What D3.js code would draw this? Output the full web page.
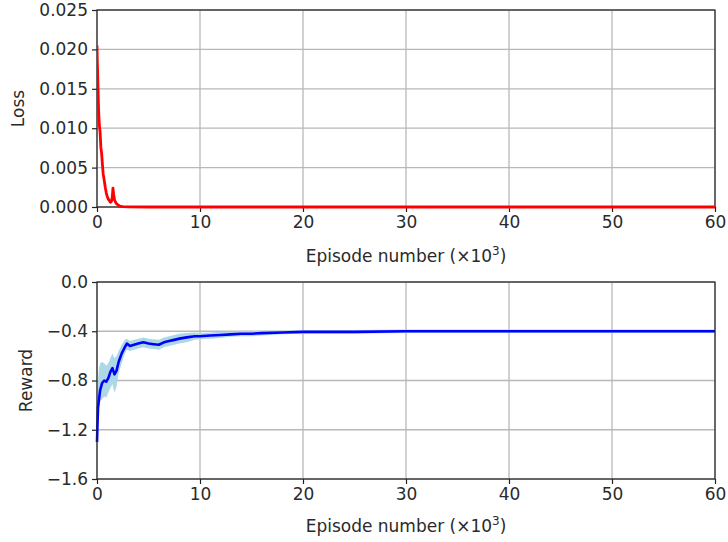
<!DOCTYPE html>
<html><head><meta charset="utf-8">
<script src="https://cdn.jsdelivr.net/npm/d3@7"></script>
<style>
body{margin:0;background:#fff;}
svg{display:block;font-family:"DejaVu Sans",sans-serif;}
</style></head>
<body>
<svg id="c" width="728" height="542"></svg>
<script>
const xTicks = [0,10,20,30,40,50,60];
const lossTicks = [0,0.005,0.010,0.015,0.020,0.025];
const rewardTicks = [-1.6,-1.2,-0.8,-0.4,0.0];
const xLabel = "Episode number (×10";

const lossX = [0,0.03,0.08,0.15,0.22,0.3,0.38,0.45,0.52,0.6,0.7,0.8,0.9,1.0,1.1,1.2,1.3,1.4,1.48,1.55,1.62,1.7,1.8,1.9,2.0,2.2,2.5,3,5,10,20,30,40,50,60];
const lossY = [0.0205,0.0185,0.016,0.0125,0.0105,0.0095,0.0075,0.0068,0.0055,0.0042,0.0034,0.0025,0.0018,0.0013,0.0010,0.0008,0.0006,0.0007,0.0012,0.0024,0.0016,0.0009,0.0006,0.0004,0.0003,0.0001,0.00005,0.00002,0,0,0,0,0,0,0];

const rewardX = [0,0.05,0.1,0.2,0.3,0.5,0.7,0.9,1.1,1.3,1.5,1.7,1.9,2.1,2.4,2.7,2.9,3.2,3.6,4.0,4.5,5.0,5.5,6.0,6.5,7.0,7.5,8.0,8.7,9.5,10,11,12,13,14,15,16,18,20,25,30,35,40,45,50,55,60];
const rewardMean = [-1.30,-1.15,-1.02,-0.95,-0.88,-0.82,-0.80,-0.81,-0.78,-0.73,-0.70,-0.75,-0.72,-0.65,-0.58,-0.53,-0.50,-0.52,-0.51,-0.50,-0.49,-0.50,-0.505,-0.51,-0.49,-0.48,-0.47,-0.46,-0.45,-0.44,-0.44,-0.435,-0.43,-0.425,-0.42,-0.42,-0.415,-0.41,-0.405,-0.405,-0.40,-0.40,-0.40,-0.40,-0.40,-0.40,-0.40];
const rewardLow = [-1.40,-1.28,-1.12,-1.02,-0.97,-0.95,-0.93,-0.94,-0.90,-0.86,-0.83,-0.90,-0.85,-0.74,-0.66,-0.58,-0.55,-0.56,-0.55,-0.54,-0.53,-0.54,-0.545,-0.55,-0.53,-0.52,-0.51,-0.50,-0.49,-0.47,-0.465,-0.46,-0.455,-0.445,-0.44,-0.44,-0.435,-0.425,-0.42,-0.42,-0.415,-0.415,-0.415,-0.415,-0.415,-0.415,-0.415];
const rewardHigh = [-1.18,-0.98,-0.80,-0.70,-0.66,-0.65,-0.66,-0.68,-0.66,-0.62,-0.58,-0.62,-0.60,-0.56,-0.51,-0.47,-0.46,-0.48,-0.47,-0.46,-0.45,-0.46,-0.465,-0.47,-0.45,-0.44,-0.43,-0.42,-0.415,-0.41,-0.415,-0.41,-0.405,-0.405,-0.40,-0.40,-0.395,-0.395,-0.39,-0.39,-0.385,-0.385,-0.385,-0.385,-0.385,-0.385,-0.385];

const svg = d3.select("#c");
const L = 97, R = 715;
const FS = 17;
const TXT = "#2a2a2a";
const x = d3.scaleLinear().domain([0,60]).range([L,R]);

function panel(top, bottom, yDomain, yTicks, yFmt, yLabel, yLabelX, xLabelY){
  const y = d3.scaleLinear().domain(yDomain).range([bottom, top]);
  const g = svg.append("g");
  g.append("g").selectAll("line").data(xTicks).join("line")
    .attr("x1", d=>x(d)).attr("x2", d=>x(d)).attr("y1", top).attr("y2", bottom)
    .attr("stroke","#b8b8b8").attr("stroke-width",1.3);
  g.append("g").selectAll("line").data(yTicks).join("line")
    .attr("y1", d=>y(d)).attr("y2", d=>y(d)).attr("x1", L).attr("x2", R)
    .attr("stroke","#b8b8b8").attr("stroke-width",1.3);
  const xa = g.append("g").attr("transform",`translate(0,${bottom})`)
    .call(d3.axisBottom(x).tickValues(xTicks).tickFormat(d3.format("d")).tickSize(5).tickPadding(4));
  const ya = g.append("g").attr("transform",`translate(${L},0)`)
    .call(d3.axisLeft(y).tickValues(yTicks).tickFormat(yFmt).tickSize(5).tickPadding(4));
  [xa,ya].forEach(a=>{
    a.select(".domain").remove();
    a.selectAll("text").attr("font-size",FS).attr("fill",TXT).attr("font-family","DejaVu Sans");
    a.selectAll("line").attr("stroke","#222").attr("stroke-width",1.2);
  });
  const xl = g.append("text").attr("x",(L+R)/2).attr("y",xLabelY).attr("text-anchor","middle")
    .attr("font-size",FS).attr("fill",TXT);
  xl.append("tspan").text(xLabel);
  xl.append("tspan").attr("dy",-7).attr("font-size",12).text("3");
  xl.append("tspan").attr("dy",7).text(")");
  g.append("text").attr("transform",`translate(${yLabelX},${(top+bottom)/2}) rotate(-90)`)
    .attr("text-anchor","middle").attr("font-size",FS).attr("fill",TXT).text(yLabel);
  return {g,y};
}

const p1 = panel(10, 207, [0,0.025], lossTicks, d3.format(".3f"), "Loss", 24, 262);
const p2 = panel(282, 479, [-1.6,0], rewardTicks, d3.format(".1f"), "Reward", 32, 532);

// reward band and line
p2.g.append("path").datum(rewardX.map((d,i)=>[d,rewardLow[i],rewardHigh[i]]))
  .attr("fill","#add8e6")
  .attr("d", d3.area().x(d=>x(d[0])).y0(d=>p2.y(d[1])).y1(d=>p2.y(d[2])));
p2.g.append("path").datum(rewardX.map((d,i)=>[d,rewardMean[i]]))
  .attr("fill","none").attr("stroke","#0000ff").attr("stroke-width",2.6).attr("stroke-linejoin","round")
  .attr("d", d3.line().x(d=>x(d[0])).y(d=>p2.y(d[1])));

// spines
[[10,207],[282,479]].forEach(([t,b])=>{
  svg.append("rect").attr("x",L).attr("y",t).attr("width",R-L).attr("height",b-t)
    .attr("fill","none").attr("stroke","#222").attr("stroke-width",1.2);
});

// loss line (drawn above spine as in reference)
svg.append("clipPath").attr("id","cp1").append("rect").attr("x",L).attr("y",8).attr("width",R-L).attr("height",202);
svg.append("path").datum(lossX.map((d,i)=>[d,lossY[i]]))
  .attr("clip-path","url(#cp1)")
  .attr("fill","none").attr("stroke","#ff0000").attr("stroke-width",2.8).attr("stroke-linejoin","round")
  .attr("d", d3.line().x(d=>x(d[0])).y(d=>p1.y(d[1])));
</script>
</body></html>
